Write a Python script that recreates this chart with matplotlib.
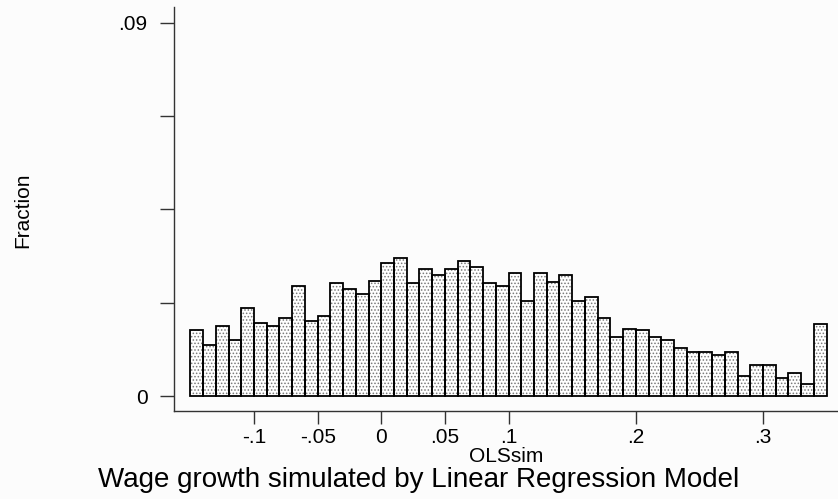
import numpy as np
import matplotlib
matplotlib.use("Agg")
import matplotlib.pyplot as plt

plt.rcParams['font.family'] = ['Liberation Sans', 'DejaVu Sans']
plt.rcParams['hatch.linewidth'] = 0.7

# histogram of OLSsim, bins of width .01 starting at -.15
bin_start = -0.15
bin_width = 0.01
fraction = [
    0.0161, 0.0124, 0.0170, 0.0137, 0.0213, 0.0176, 0.0170, 0.0190, 0.0266, 0.0181,
    0.0194, 0.0273, 0.0259, 0.0247, 0.0279, 0.0321, 0.0333, 0.0273, 0.0307, 0.0293,
    0.0307, 0.0325, 0.0312, 0.0273, 0.0266, 0.0298, 0.0230, 0.0298, 0.0275, 0.0292,
    0.0230, 0.0239, 0.0190, 0.0142, 0.0162, 0.0161, 0.0142, 0.0137, 0.0117, 0.0108,
    0.0108, 0.0100, 0.0108, 0.0050, 0.0076, 0.0076, 0.0044, 0.0057, 0.0030, 0.0174,
]
lefts = bin_start + bin_width * np.arange(len(fraction))

xticks = [-0.1, -0.05, 0, 0.05, 0.1, 0.2, 0.3]
xtick_labels = ['-.1', '-.05', '0', '.05', '.1', '.2', '.3']
yticks = [0, 0.0225, 0.045, 0.0675, 0.09]
ytick_labels = ['0', '', '', '', '.09']

fig = plt.figure(figsize=(8.38, 4.99), dpi=100, facecolor='#fcfcfc')
ax = fig.add_axes([174 / 838, 88 / 499, 664 / 838, 404 / 499])
ax.set_facecolor('#fcfcfc')

# dotted fill, then black outline on top
ax.bar(lefts, fraction, width=bin_width, align='edge', facecolor='white',
       edgecolor='#7a7a7a', hatch='.....', linewidth=0)
ax.bar(lefts, fraction, width=bin_width, align='edge', fill=False,
       edgecolor='black', linewidth=1.3)

ax.set_xlim(-0.1629, 0.3589)
ax.set_ylim(-0.00349, 0.09373)

ax.set_xticks(xticks)
ax.set_xticklabels(xtick_labels)
ax.set_yticks(yticks)
ax.set_yticklabels(ytick_labels)
ax.tick_params(axis='x', length=9, width=1, pad=3, labelsize=15, color='#333333')
ax.tick_params(axis='y', length=10, width=1, pad=9, labelsize=15, color='#333333')

for side in ['top', 'right']:
    ax.spines[side].set_visible(False)
for side in ['left', 'bottom']:
    ax.spines[side].set_color('#333333')
    ax.spines[side].set_linewidth(1)

ax.set_xlabel('OLSsim', fontsize=15, labelpad=0)
fig.text(23 / 838, 1 - 210 / 499, 'Fraction', rotation=90, fontsize=15,
         ha='center', va='center')
fig.text(0.5, 1 - 480 / 499, 'Wage growth simulated by Linear Regression Model',
         fontsize=20, ha='center', va='center')

fig.savefig('out.png', dpi=100, facecolor=fig.get_facecolor())
